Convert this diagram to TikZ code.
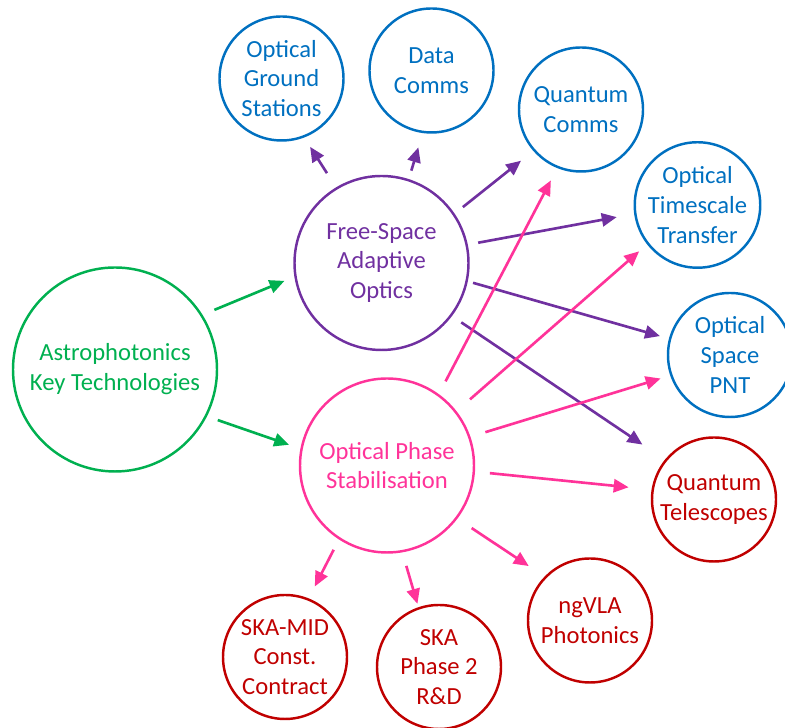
\documentclass[tikz,border=0pt]{standalone}
\usepackage{fontspec}
\setmainfont{Carlito}
\usetikzlibrary{arrows.meta}

\definecolor{apgreen}{RGB}{0,176,80}
\definecolor{appurple}{RGB}{112,48,160}
\definecolor{apblue}{RGB}{0,112,192}
\definecolor{appink}{RGB}{255,51,153}
\definecolor{apred}{RGB}{192,0,0}

\begin{document}
\begin{tikzpicture}
[
  font=\fontsize{14}{17}\selectfont,
  blob/.style={circle,draw,line width=1.4pt,align=center,inner sep=0pt},
  big/.style={blob,minimum size=4.08cm},
  mid/.style={blob,minimum size=3.48cm},
  small/.style={blob,minimum size=2.48cm},
  arr/.style={line width=1.5pt,-{Triangle[length=8.5pt,width=7.5pt]}},
  garr/.style={arr,apgreen},
  parr/.style={arr,appurple},
  karr/.style={arr,appink}
]
\useasboundingbox (0,0) rectangle (15.7,14.56);

% key technologies
\node[big,apgreen] (astro) at (2.30,7.17) {Astrophotonics\\Key Technologies};
\node[mid,appurple] (fsao) at (7.63,9.30) {Free-Space\\Adaptive\\Optics};
\node[mid,appink] (ops) at (7.74,5.25) {Optical Phase\\Stabilisation};

% applications
\node[small,apblue] (ogs) at (5.63,12.99) {Optical\\Ground\\Stations};
\node[small,apblue] (data) at (8.63,13.15) {Data\\Comms};
\node[small,apblue] (qcomm) at (11.62,12.37) {Quantum\\Comms};
\node[small,apblue] (ots) at (13.95,10.46) {Optical\\Timescale\\Transfer};
\node[small,apblue] (pnt) at (14.60,7.46) {Optical\\Space\\PNT};

% projects
\node[small,apred] (qtel) at (14.28,4.57) {Quantum\\Telescopes};
\node[small,apred] (ngvla) at (11.80,2.15) {ngVLA\\Photonics};
\node[small,apred] (ska2) at (8.78,1.22) {SKA\\Phase 2\\R\&D};
\node[small,apred] (skamid) at (5.70,1.42) {SKA-MID\\Const.\\Contract};

% arrows
\draw[garr,shorten <=7.3pt,shorten >=6.1pt] (astro.32) -- (fsao.189);
\draw[garr,shorten <=6.5pt,shorten >=6.8pt] (astro.-27) -- (ops.169);

\draw[parr,shorten <=9.6pt,shorten >=6.3pt] (fsao.121) -- (ogs.-69);
\draw[parr,shorten <=5pt,shorten >=8.5pt] (fsao.72) -- (data.-98);
\draw[parr,shorten <=6pt,shorten >=8.9pt] (fsao.34) -- (qcomm.221);
\draw[parr,shorten <=6pt,shorten >=10.1pt] (fsao.12) -- (ots.188);
\draw[parr,shorten <=3.1pt,shorten >=5.3pt] (fsao.-12) -- (pnt.165);
\draw[parr,shorten <=6.4pt,shorten >=15.4pt] (fsao.-37) -- (qtel.141);

\draw[karr,shorten <=8.2pt,shorten >=7.9pt] (ops.54) -- (qcomm.248);
\draw[karr,shorten <=10.2pt,shorten >=6pt] (ops.38) -- (ots.218);
\draw[karr,shorten <=8.9pt,shorten >=5.7pt] (ops.19) -- (pnt.199);
\draw[karr,shorten <=8.5pt,shorten >=13.1pt] (ops.-4) -- (qtel.171);
\draw[karr,shorten <=9.7pt,shorten >=10.8pt] (ops.-37) -- (ngvla.136);
\draw[karr,shorten <=8pt,shorten >=2pt] (ops.-80) -- (ska2.109);
\draw[karr,shorten <=6.6pt,shorten >=7.6pt] (ops.-123) -- (skamid.68);

\end{tikzpicture}
\end{document}
